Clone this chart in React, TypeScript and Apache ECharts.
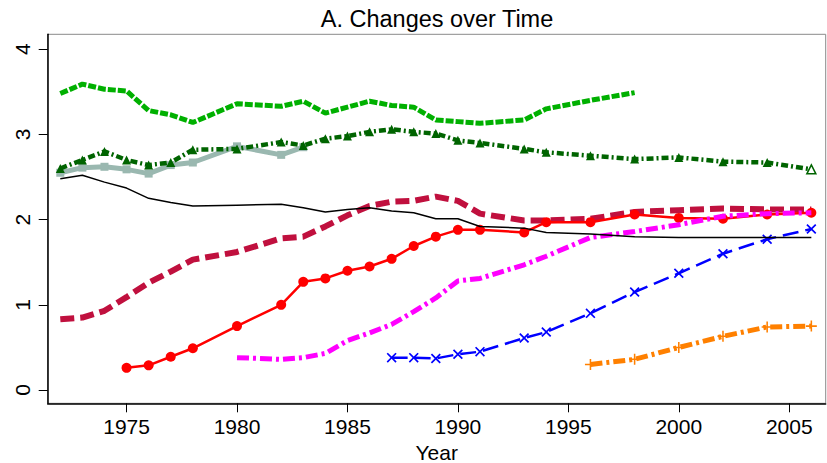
import React, { useEffect, useRef } from "react";
import * as echarts from "echarts";

// ---- Data ----
const xTicks = [1975, 1980, 1985, 1990, 1995, 2000, 2005];
const yTicks = [0, 1, 2, 3, 4];

const blackYears = [1972, 1973, 1974, 1975, 1976, 1977, 1978, 1980, 1982, 1983, 1984, 1985, 1986, 1987, 1988, 1989, 1990, 1991, 1993, 1994, 1996, 1998, 2000, 2002, 2004, 2006];
const blackVals = [2.48, 2.52, 2.44, 2.37, 2.25, 2.2, 2.16, 2.17, 2.18, 2.14, 2.09, 2.12, 2.14, 2.1, 2.08, 2.01, 2.01, 1.92, 1.9, 1.85, 1.83, 1.8, 1.79, 1.79, 1.79, 1.79];

const brightGreenYears = [1972, 1973, 1974, 1975, 1976, 1977, 1978, 1980, 1982, 1983, 1984, 1985, 1986, 1987, 1988, 1989, 1990, 1991, 1993, 1994, 1996, 1998];
const brightGreenVals = [3.48, 3.59, 3.53, 3.51, 3.28, 3.23, 3.14, 3.36, 3.33, 3.39, 3.25, 3.32, 3.39, 3.34, 3.32, 3.17, 3.15, 3.13, 3.17, 3.3, 3.4, 3.49];

const darkGreenYears = [1972, 1973, 1974, 1975, 1976, 1977, 1978, 1980, 1982, 1983, 1984, 1985, 1986, 1987, 1988, 1989, 1990, 1991, 1993, 1994, 1996, 1998, 2000, 2002, 2004, 2006];
const darkGreenVals = [2.6, 2.7, 2.8, 2.7, 2.64, 2.67, 2.82, 2.83, 2.91, 2.87, 2.95, 2.98, 3.03, 3.06, 3.03, 3.01, 2.93, 2.9, 2.83, 2.79, 2.75, 2.71, 2.73, 2.68, 2.67, 2.59];

const grayYears = [1972, 1973, 1974, 1975, 1976, 1977, 1978, 1980, 1982, 1983];
const grayVals = [2.55, 2.61, 2.62, 2.59, 2.54, 2.64, 2.67, 2.86, 2.76, 2.85];

const crimsonYears = [1972, 1973, 1974, 1975, 1976, 1977, 1978, 1980, 1982, 1983, 1984, 1985, 1986, 1987, 1988, 1989, 1990, 1991, 1993, 1994, 1996, 1998, 2000, 2002, 2004, 2006];
const crimsonVals = [0.83, 0.85, 0.93, 1.09, 1.26, 1.39, 1.53, 1.62, 1.78, 1.8, 1.92, 2.05, 2.16, 2.21, 2.22, 2.27, 2.22, 2.07, 1.99, 1.99, 2.01, 2.09, 2.11, 2.13, 2.12, 2.12];

const redYears = [1975, 1976, 1977, 1978, 1980, 1982, 1983, 1984, 1985, 1986, 1987, 1988, 1989, 1990, 1991, 1993, 1994, 1996, 1998, 2000, 2002, 2004, 2006];
const redVals = [0.26, 0.29, 0.39, 0.49, 0.75, 1.0, 1.27, 1.31, 1.4, 1.45, 1.54, 1.69, 1.8, 1.88, 1.88, 1.85, 1.97, 1.97, 2.06, 2.02, 2.01, 2.06, 2.08];

const magentaYears = [1980, 1982, 1983, 1984, 1985, 1986, 1987, 1988, 1989, 1990, 1991, 1993, 1994, 1996, 1998, 2000, 2002, 2004, 2006];
const magentaVals = [0.38, 0.36, 0.38, 0.43, 0.58, 0.67, 0.77, 0.92, 1.08, 1.28, 1.31, 1.47, 1.57, 1.79, 1.86, 1.94, 2.04, 2.07, 2.08];

const blueYears = [1987, 1988, 1989, 1990, 1991, 1993, 1994, 1996, 1998, 2000, 2002, 2004, 2006];
const blueVals = [0.38, 0.38, 0.37, 0.42, 0.45, 0.61, 0.68, 0.9, 1.15, 1.37, 1.6, 1.77, 1.89];

const orangeYears = [1996, 1998, 2000, 2002, 2004, 2006];
const orangeVals = [0.3, 0.36, 0.5, 0.63, 0.74, 0.75];

const zip = (xs: number[], ys: number[]) => xs.map((x, i) => [x, ys[i]]);

const FONT = "'Liberation Sans', Arial, sans-serif";
const X_SYMBOL = "path://M0,1.2 L1.2,0 L5,3.8 L8.8,0 L10,1.2 L6.2,5 L10,8.8 L8.8,10 L5,6.2 L1.2,10 L0,8.8 L3.8,5 Z";
const PLUS_SYMBOL = "path://M4.3,0 H5.7 V4.3 H10 V5.7 H5.7 V10 H4.3 V5.7 H0 V4.3 H4.3 Z";

export default function App() {
  const ref = useRef<HTMLDivElement>(null);
  useEffect(() => {
    if (!ref.current) return;
    const chart = echarts.init(ref.current, undefined, { renderer: "svg" });

    const darkGreenData = zip(darkGreenYears, darkGreenVals).map((v, i, arr) =>
      i === arr.length - 1
        ? { value: v, itemStyle: { color: "#ffffff", borderColor: "#006400", borderWidth: 1.5 } }
        : { value: v }
    );

    const option: any = {
      animation: false,
      backgroundColor: "#ffffff",
      textStyle: { fontFamily: FONT },
      grid: {
        left: 47.7,
        right: 1.3,
        top: 34.3,
        bottom: 59.7,
        containLabel: false,
        outerBoundsMode: "none",
        show: true,
        borderColor: "#8a8a8a",
        borderWidth: 1,
        backgroundColor: "#ffffff",
      },
      graphic: [
        {
          type: "text",
          x: 437,
          y: 18.5,
          style: {
            text: "A. Changes over Time",
            fontFamily: FONT,
            fontSize: 23.5,
            fill: "#000",
            textAlign: "center",
            textVerticalAlign: "middle",
          },
        },
      ],
      xAxis: {
        type: "value",
        min: 1971.43,
        max: 2006.65,
        name: "Year",
        nameLocation: "middle",
        nameGap: 35,
        nameTextStyle: { fontFamily: FONT, fontSize: 21, color: "#000" },
        axisLine: { show: true, onZero: false, lineStyle: { color: "#000", width: 1.5 } },
        axisTick: { show: true, length: 9, customValues: xTicks, lineStyle: { color: "#000", width: 1 } },
        axisLabel: {
          customValues: xTicks,
          formatter: (v: number) => String(v),
          fontFamily: FONT,
          fontSize: 21,
          color: "#000",
          margin: 13,
        },
        splitLine: { show: false },
      },
      yAxis: {
        type: "value",
        min: -0.156,
        max: 4.175,
        axisLine: { show: true, onZero: false, lineStyle: { color: "#000", width: 1.5 } },
        axisTick: { show: true, length: 9, customValues: yTicks, lineStyle: { color: "#000", width: 1 } },
        axisLabel: {
          customValues: yTicks,
          formatter: (v: number) => String(v),
          fontFamily: FONT,
          fontSize: 21,
          color: "#000",
          margin: 15,
          rotate: 90,
        },
        splitLine: { show: false },
      },
      series: [
        {
          type: "line",
          data: zip(crimsonYears, crimsonVals),
          symbol: "none",
          lineStyle: { color: "#c0103e", width: 6, type: [14, 6] },
          z: 2,
        },
        {
          type: "line",
          data: zip(redYears, redVals),
          symbol: "circle",
          symbolSize: 10,
          itemStyle: { color: "#ff0000" },
          lineStyle: { color: "#ff0000", width: 2.5 },
          z: 3,
        },
        {
          type: "line",
          data: zip(magentaYears, magentaVals),
          symbol: "none",
          lineStyle: { color: "#ff00ff", width: 5, type: [12, 4, 3, 4] },
          z: 4,
        },
        {
          type: "line",
          data: zip(brightGreenYears, brightGreenVals),
          symbol: "none",
          lineStyle: { color: "#00b000", width: 5, type: [8, 2] },
          z: 2,
        },
        {
          type: "line",
          data: zip(grayYears, grayVals),
          symbol: "rect",
          symbolSize: 8,
          itemStyle: { color: "#9ab8b0" },
          lineStyle: { color: "#9ab8b0", width: 5 },
          z: 3,
        },
        {
          type: "line",
          data: darkGreenData,
          symbol: "triangle",
          symbolSize: 9,
          itemStyle: { color: "#006400" },
          lineStyle: { color: "#006400", width: 4.5, type: [7, 3, 2, 3] },
          z: 4,
        },
        {
          type: "line",
          data: zip(blueYears, blueVals),
          symbol: X_SYMBOL,
          symbolSize: 10,
          itemStyle: { color: "#0000ff" },
          lineStyle: { color: "#0000ff", width: 2.5, type: [16, 7] },
          z: 4,
        },
        {
          type: "line",
          data: zip(orangeYears, orangeVals),
          symbol: PLUS_SYMBOL,
          symbolSize: 11,
          itemStyle: { color: "#ff8000" },
          lineStyle: { color: "#ff8000", width: 5, type: [12, 4, 3, 4] },
          z: 4,
        },
        {
          type: "line",
          data: zip(blackYears, blackVals),
          symbol: "none",
          lineStyle: { color: "#000000", width: 1.5 },
          z: 5,
        },
      ],
    };
    chart.setOption(option);
    return () => chart.dispose();
  }, []);

  return (
    <div
      ref={ref}
      style={{ position: "absolute", left: 0, top: 0, width: 827, height: 463 }}
    />
  );
}
